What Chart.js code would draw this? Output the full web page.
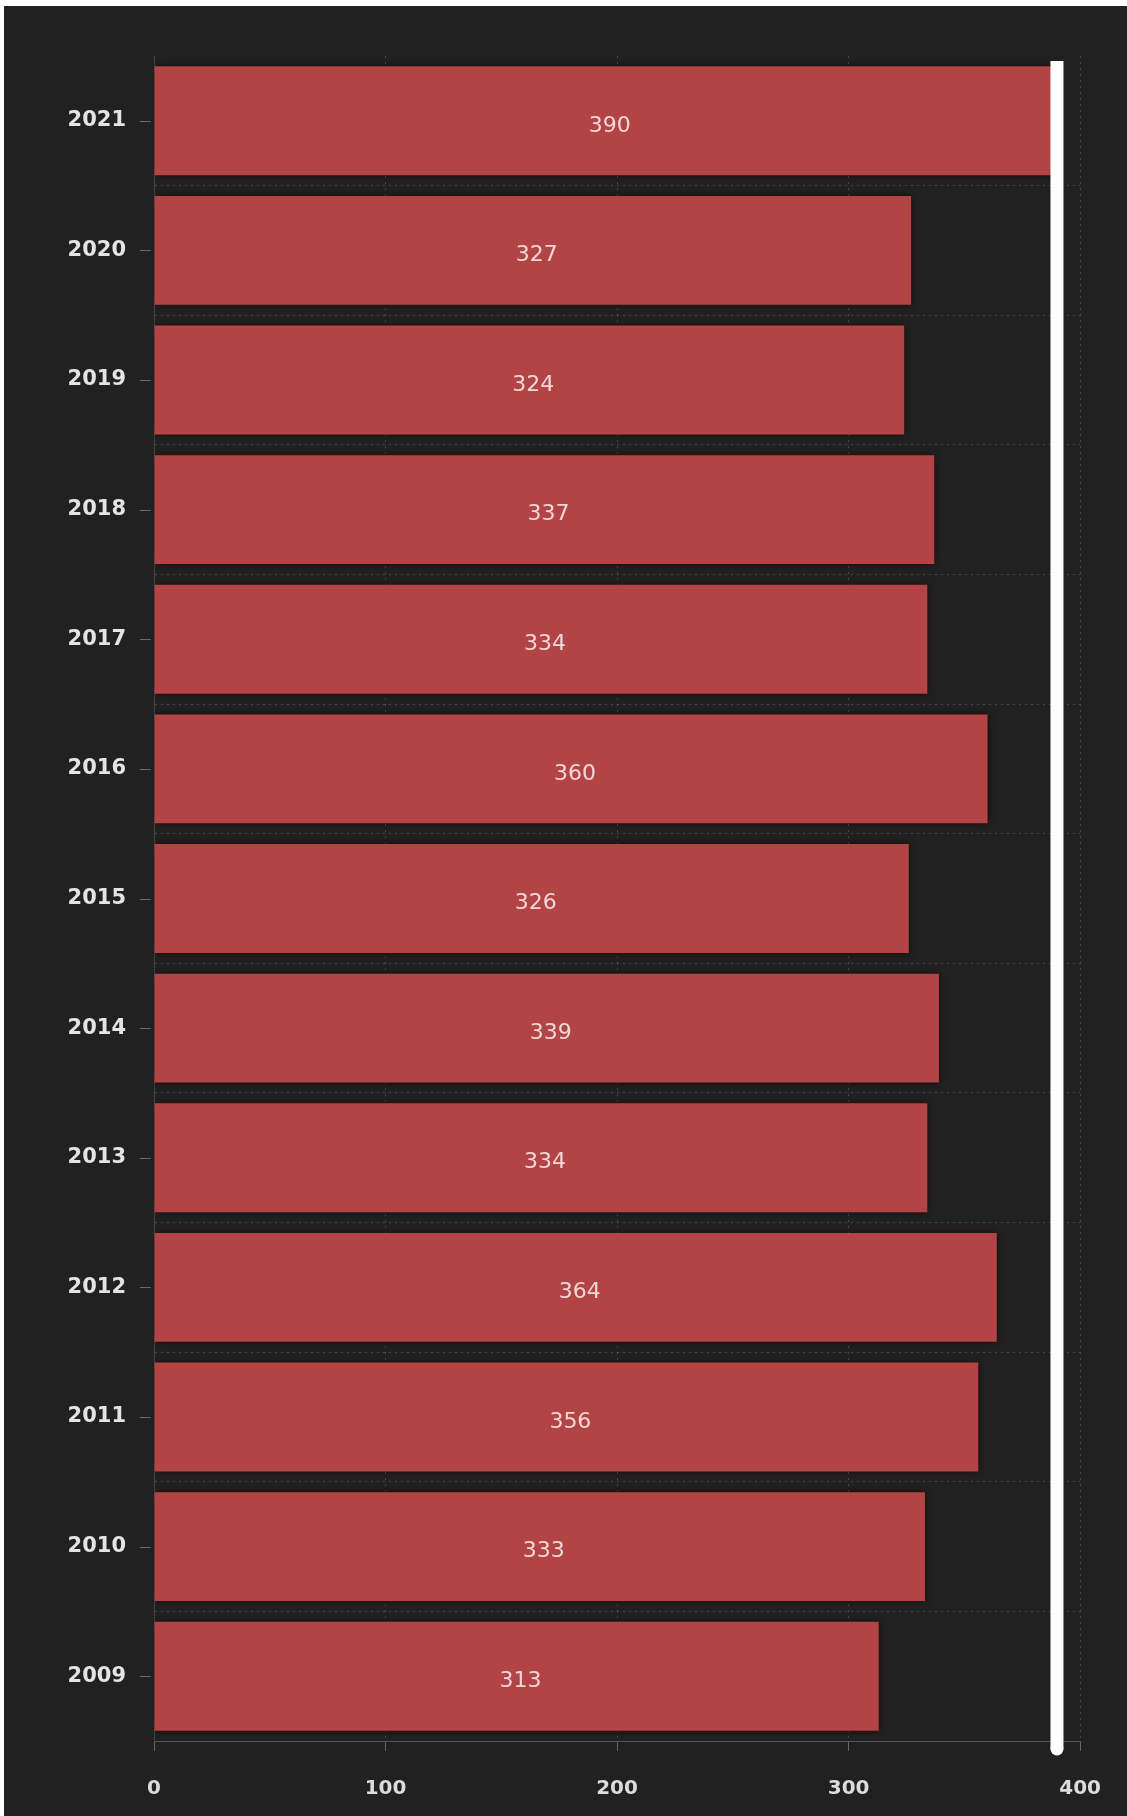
<!DOCTYPE html>
<html>
<head>
<meta charset="utf-8">
<script src="https://cdn.jsdelivr.net/npm/chart.js@4.4.1/dist/chart.umd.min.js"></script>
<style>
    html, body { margin: 0; padding: 0; background: #ffffff; }
    #wrap { position: absolute; left: 4px; top: 6px; width: 1123px; height: 1810px; background: #212121; }
</style>
</head>
<body>
<div id="wrap"><canvas id="chart" width="1123" height="1810"></canvas></div>
<script>
// data, top row first
const years = ['2021', '2020', '2019', '2018', '2017', '2016', '2015', '2014', '2013', '2012', '2011', '2010', '2009'];
const counts = [390, 327, 324, 337, 334, 360, 326, 339, 334, 364, 356, 333, 313];
const markerValue = 390;
const xTicks = [0, 100, 200, 300, 400];

const barColor = '#b24446';
const gridColor = 'rgba(255,255,255,0.17)';

// soft dark edge round the bars
const barShadow = {
    id: 'barShadow',
    beforeDatasetDraw(chart) {
        const ctx = chart.ctx;
        ctx.save();
        ctx.shadowColor = 'rgba(30,0,0,0.9)';
        ctx.shadowBlur = 7;
    },
    afterDatasetDraw(chart) {
        chart.ctx.restore();
    }
};

// small tick marks at each year label
const yTickMarks = {
    id: 'yTickMarks',
    afterDraw(chart) {
        const ctx = chart.ctx;
        const y = chart.scales.y;
        ctx.save();
        ctx.strokeStyle = '#666666';
        ctx.lineWidth = 1;
        years.forEach((_, i) => {
            const py = Math.round(y.getPixelForValue(i)) + 0.5;
            ctx.beginPath();
            ctx.moveTo(y.right - 14, py);
            ctx.lineTo(y.right - 3, py);
            ctx.stroke();
        });
        ctx.restore();
    }
};

// values in the middle of each bar
const barLabels = {
    id: 'barLabels',
    afterDatasetsDraw(chart) {
        const ctx = chart.ctx;
        const meta = chart.getDatasetMeta(0);
        ctx.save();
        ctx.font = '22px "DejaVu Sans", sans-serif';
        ctx.fillStyle = '#f4d6d6';
        ctx.textAlign = 'center';
        ctx.textBaseline = 'middle';
        meta.data.forEach((bar, i) => {
            const c = bar.getCenterPoint();
            ctx.fillText(String(counts[i]), c.x + 4, c.y + 5);
        });
        ctx.restore();
    }
};

// thick white line at the top value
const markerLine = {
    id: 'markerLine',
    afterDraw(chart) {
        const ctx = chart.ctx;
        const area = chart.chartArea;
        const px = chart.scales.x.getPixelForValue(markerValue);
        const y0 = area.top + 5;
        const y1 = area.bottom + 8;
        ctx.save();
        ctx.strokeStyle = '#ffffff';
        ctx.fillStyle = '#ffffff';
        ctx.lineWidth = 13;
        ctx.lineCap = 'butt';
        ctx.beginPath();
        ctx.moveTo(px, y0);
        ctx.lineTo(px, y1);
        ctx.stroke();
        ctx.beginPath();
        ctx.arc(px, y1, 6.5, 0, Math.PI * 2);
        ctx.fill();
        ctx.restore();
    }
};

new Chart(document.getElementById('chart'), {
    type: 'bar',
    data: {
        labels: years,
        datasets: [{
            data: counts,
            backgroundColor: barColor,
            borderWidth: 0,
            barPercentage: 0.84,
            categoryPercentage: 1.0
        }]
    },
    options: {
        indexAxis: 'y',
        responsive: false,
        animation: false,
        layout: { padding: { top: 50, right: 44, left: 0, bottom: 0 } },
        plugins: { legend: { display: false }, tooltip: { enabled: false } },
        scales: {
            x: {
                min: 0,
                max: 400,
                afterBuildTicks: axis => { axis.ticks = xTicks.map(v => ({ value: v })); },
                afterFit: axis => { axis.height = 75; },
                grid: {
                    color: ctx => ctx.index === 0 ? 'rgba(0,0,0,0)' : gridColor,
                    lineWidth: 1,
                    tickLength: 10,
                    tickColor: '#666666',
                    drawTicks: true
                },
                border: { display: true, color: '#555555', dash: [2, 4] },
                ticks: {
                    color: '#dcdcdc',
                    padding: 26,
                    font: { family: '"DejaVu Sans", sans-serif', size: 20, weight: 'bold' }
                }
            },
            y: {
                afterFit: axis => { axis.width = 150; },
                grid: {
                    offset: true,
                    color: ctx => ctx.index === 0 ? 'rgba(0,0,0,0)' : gridColor,
                    lineWidth: 1,
                    drawTicks: false
                },
                border: { display: true, color: '#444444', dash: [2, 4] },
                ticks: {
                    color: '#e4e4e4',
                    padding: 28,
                    font: { family: '"DejaVu Sans", sans-serif', size: 21, weight: 'bold' }
                }
            }
        }
    },
    plugins: [barShadow, yTickMarks, barLabels, markerLine]
});
</script>
</body>
</html>
